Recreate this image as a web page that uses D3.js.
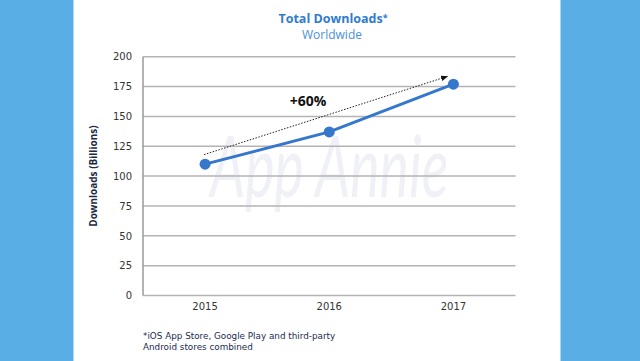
<!DOCTYPE html>
<html><head><meta charset="utf-8">
<script src="https://cdn.jsdelivr.net/npm/d3@7"></script>
<style>
html,body{margin:0;padding:0;background:#fff;}
svg{display:block;}
</style></head>
<body>
<svg id="chart" width="640" height="361"></svg>
<script>
const years = ["2015", "2016", "2017"];
const downloads = [110, 137, 177];
const yTicks = [0, 25, 50, 75, 100, 125, 150, 175, 200];
const titleText = "Total Downloads";
const subtitleText = "Worldwide";
const yLabel = "Downloads (Billions)";
const growthLabel = "+60%";
const footnote = ["*iOS App Store, Google Play and third-party", "Android stores combined"];

const svg = d3.select("#chart");
const W = 640, H = 361;
const m = {left: 143, right: 640 - 515.5, top: 56.7, bottom: 361 - 295.5};

// side blue bands
svg.append("rect").attr("x", 0).attr("y", 0).attr("width", 73.5).attr("height", H).attr("fill", "#5aaee6");
svg.append("rect").attr("x", 560.5).attr("y", 0).attr("width", W - 560.5).attr("height", H).attr("fill", "#5aaee6");

const x = d3.scaleBand().domain(years).range([m.left, W - m.right]);
const y = d3.scaleLinear().domain([0, 200]).range([H - m.bottom, m.top]);

// watermark
svg.append("text").attr("x", x("2016") + x.bandwidth()/2).attr("y", 197)
  .attr("text-anchor", "middle").attr("font-family", "Lato, sans-serif").attr("font-style", "italic")
  .attr("font-weight", 400).attr("font-size", 86).attr("fill", "#eff1f6")
  .attr("textLength", 238).attr("lengthAdjust", "spacingAndGlyphs").text("App Annie");

// gridlines
svg.append("g").selectAll("line").data(yTicks).join("line")
  .attr("x1", m.left).attr("x2", W - m.right)
  .attr("y1", d => y(d)).attr("y2", d => y(d))
  .attr("stroke", "#b3b3b3").attr("stroke-width", 1.5);

// left axis line
svg.append("line").attr("x1", m.left).attr("x2", m.left).attr("y1", y(200)).attr("y2", y(0))
  .attr("stroke", "#9a9a9a").attr("stroke-width", 1.5);

// y axis ticks
const yAxis = d3.axisLeft(y).tickValues(yTicks).tickSize(0).tickPadding(11);
const gy = svg.append("g").attr("transform", `translate(${m.left},0)`).call(yAxis);
gy.select(".domain").remove();
gy.selectAll("text").attr("font-family", "DejaVu Sans, Verdana, sans-serif").attr("font-size", 10).attr("fill", "#333");

// x axis
const xAxis = d3.axisBottom(x).tickSize(0).tickPadding(7);
const gx = svg.append("g").attr("transform", `translate(0,${y(0)})`).call(xAxis);
gx.select(".domain").remove();
gx.selectAll("text").attr("font-family", "DejaVu Sans, Verdana, sans-serif").attr("font-size", 10).attr("fill", "#333");

// y label
svg.append("text").attr("transform", `translate(97,${(y(0)+y(200))/2}) rotate(-90)`)
  .attr("text-anchor", "middle").attr("font-family", "Open Sans, sans-serif").attr("font-weight", 700)
  .attr("font-size", 10).attr("fill", "#1b2a44").text(yLabel);

// dotted arrow
const defs = svg.append("defs");
defs.append("marker").attr("id", "ah").attr("viewBox", "0 0 10 10").attr("refX", 9).attr("refY", 5)
  .attr("markerWidth", 7).attr("markerHeight", 7).attr("orient", "auto")
  .append("path").attr("d", "M0,1 L10,5 L0,9 Z").attr("fill", "#111");
const cx = d => x(d) + x.bandwidth()/2;
svg.append("line")
  .attr("x1", cx("2015") - 1).attr("y1", y(118))
  .attr("x2", cx("2017") - 6).attr("y2", y(183.5))
  .attr("stroke", "#222").attr("stroke-width", 1).attr("stroke-dasharray", "1.5,1.5")
  .attr("marker-end", "url(#ah)");

svg.append("text").attr("x", 308).attr("y", 106).attr("text-anchor", "middle")
  .attr("font-family", "Open Sans, sans-serif").attr("font-weight", 700).attr("font-size", 14)
  .attr("fill", "#111").text(growthLabel);

// line
const line = d3.line().x((d, i) => cx(years[i])).y(d => y(d));
svg.append("path").datum(downloads).attr("d", line).attr("fill", "none")
  .attr("stroke", "#3577cc").attr("stroke-width", 3);
svg.append("g").selectAll("circle").data(downloads).join("circle")
  .attr("cx", (d, i) => cx(years[i])).attr("cy", d => y(d)).attr("r", 5.5).attr("fill", "#3577cc");

// titles
const t = svg.append("text").attr("x", 333).attr("y", 23).attr("text-anchor", "middle")
  .attr("font-family", "Open Sans, sans-serif").attr("font-weight", 700).attr("font-size", 12.5)
  .attr("fill", "#2f7cd0");
t.append("tspan").text(titleText);
t.append("tspan").attr("font-size", 9).attr("dy", -2).text("*");
svg.append("text").attr("x", 332).attr("y", 38.5).attr("text-anchor", "middle")
  .attr("font-family", "Open Sans, sans-serif").attr("font-size", 12)
  .attr("fill", "#4a90dc").text(subtitleText);

// footnote
svg.append("g").selectAll("text").data(footnote).join("text")
  .attr("x", 143).attr("y", (d, i) => 339 + i * 11)
  .attr("font-family", "DejaVu Sans, Verdana, sans-serif").attr("font-size", 8.8)
  .attr("fill", "#1b2a50").text(d => d);
</script>
</body></html>
